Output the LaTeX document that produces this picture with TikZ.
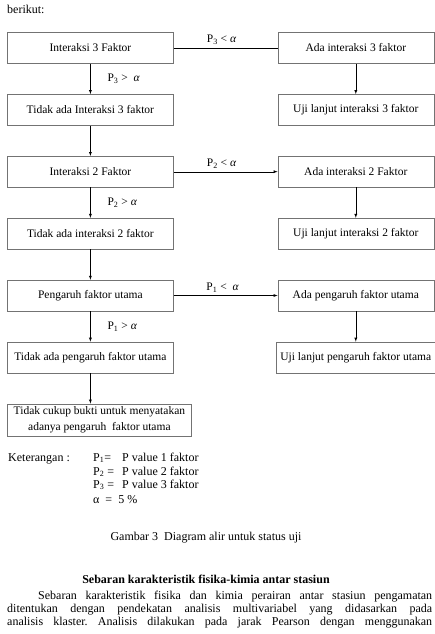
\documentclass[tikz,border=0pt]{standalone}
\usepackage{fontspec}
\setmainfont{Liberation Serif}
\usetikzlibrary{matrix}
\usetikzlibrary{arrows}
\usetikzlibrary{calc}
\usetikzlibrary{positioning}

\begin{document}
\begin{tikzpicture}[x=1pt, y=1pt, >=latex]
    \fontsize{11.5}{13}\selectfont

    \tikzstyle{blk} = [rectangle, draw=black!55, thin, minimum height=31pt, inner xsep=2pt, inner ysep=1pt, text centered]
    \tikzstyle{lblk} = [blk, anchor=west, minimum width=166pt]
    \tikzstyle{rblk} = [blk, anchor=center, minimum width=156pt]
    \tikzstyle{lab} = [rectangle, inner sep=3pt]
    \tikzstyle{connector} = [->, thin]
    \tikzstyle{line} = [thin]
    \tikzstyle{body} = [rectangle, inner sep=0pt, font=\fontsize{12}{13}\selectfont]

    \useasboundingbox (0,0) rectangle (435,-634);

    \node [body, anchor=base west] (intro) at (7,-14) {berikut:};

    % Node placement with matrix library (7x2 array) %%%%%%%%%%%%%%%%%%%%%%%%%%%%%%%%%%%%
    \matrix[ampersand replacement=\&, row sep=30.5pt, column sep=84pt, inner sep=0pt, anchor=north west] (flow) at (7,-32) {

      % row 1
      \node[lblk] (boxA1) {Interaksi 3 Faktor}; \&
      \node[rblk] (boxA2) {Ada interaksi 3 faktor};
      \\

      % row 2
      \node[lblk] (boxB1) {Tidak ada Interaksi 3 faktor}; \&
      \node[rblk] (boxB2) {Uji lanjut interaksi 3 faktor};
      \\

      % row 3
      \node[lblk] (boxC1) {Interaksi 2 Faktor}; \&
      \node[rblk] (boxC2) {Ada interaksi 2 Faktor};
      \\

      % row 4
      \node[lblk] (boxD1) {Tidak ada interaksi 2 faktor}; \&
      \node[rblk] (boxD2) {Uji lanjut interaksi 2 faktor};
      \\

      % row 5
      \node[lblk] (boxE1) {Pengaruh faktor utama}; \&
      \node[rblk] (boxE2) {Ada pengaruh faktor utama};
      \\

      % row 6
      \node[lblk] (boxF1) {Tidak ada pengaruh faktor utama}; \&
      \node[rblk, minimum width=160pt] (boxF2) {Uji lanjut pengaruh faktor utama};
      \\

      % row 7
      \node[lblk, minimum width=184pt, minimum height=32pt, align=center, font=\fontsize{11.5}{16}\selectfont] (boxG1) {Tidak cukup bukti untuk menyatakan\\adanya pengaruh\ \ faktor utama}; \&
      \\
    };

     % Now link the nodes %%%%%%%%%%%%%%%%%%%%%%%%%%%%%%%%%%%%%%%%%%%%%%%%%%%%%%%%%%%%%%%%
     \draw [line]      (boxA1) -- (boxA2) node[lab, midway, above, xshift=-4pt] {P\textsubscript{3} < \textit{α}};
     \draw [connector] (boxC1) -- (boxC2) node[lab, midway, above, xshift=-4pt] {P\textsubscript{2} < \textit{α}};
     \draw [connector] (boxE1) -- (boxE2) node[lab, midway, above, xshift=-3pt] {P\textsubscript{1} <\ \ \textit{α}};

     \draw [connector] (boxA1) -- (boxB1) node[lab, midway, right=14pt] {P\textsubscript{3} > \ \textit{α}};
     \draw [connector] (boxB1) -- (boxC1);
     \draw [connector] (boxC1) -- (boxD1) node[lab, midway, right=14pt] {P\textsubscript{2} > \textit{α}};
     \draw [connector] (boxD1) -- (boxE1);
     \draw [connector] (boxE1) -- (boxF1) node[lab, midway, right=14pt] {P\textsubscript{1} > \textit{α}};
     \draw [connector] (boxF1) -- (boxF1 |- boxG1.north);

     \draw [connector] (boxA2) -- (boxB2);
     \draw [connector] (boxC2) -- (boxD2);
     \draw [connector] (boxE2) -- (boxF2);

     % Legend and caption %%%%%%%%%%%%%%%%%%%%%%%%%%%%%%%%%%%%%%%%%%%%%%%%%%%%%%%%%%%%%%%%
     \node [body, anchor=base west] (keyword) at (8,-461) {Keterangan :};
     \node [body, anchor=base west] (keyP1) at (93,-461) {\makebox[29pt][l]{P\textsubscript{1}=}P value 1 faktor};
     \node [body, anchor=base west] (keyP2) at (93,-475) {\makebox[29pt][l]{P\textsubscript{2} =}P value 2 faktor};
     \node [body, anchor=base west] (keyP3) at (93,-488) {\makebox[29pt][l]{P\textsubscript{3} =}P value 3 faktor};
     \node [body, anchor=base west] (keyA)  at (93,-503) {α\ \ =\ \ 5 \%};

     \node [body, anchor=base] (caption) at (206,-540) {Gambar 3\ \ Diagram alir untuk status uji};
     \node [body, anchor=base] (heading) at (206,-583) {\bfseries Sebaran karakteristik fisika-kimia antar stasiun};
     \node [body, anchor=north west, text width=425pt, align=justify] (para) at (7,-591) {\frenchspacing
       \hspace*{31pt}Sebaran karakteristik fisika dan kimia perairan antar stasiun pengamatan\linebreak
       ditentukan dengan pendekatan analisis multivariabel yang didasarkan pada\linebreak
       analisis klaster. Analisis dilakukan pada jarak Pearson dengan menggunakan\parfillskip=0pt\par};

\end{tikzpicture}
\end{document}
